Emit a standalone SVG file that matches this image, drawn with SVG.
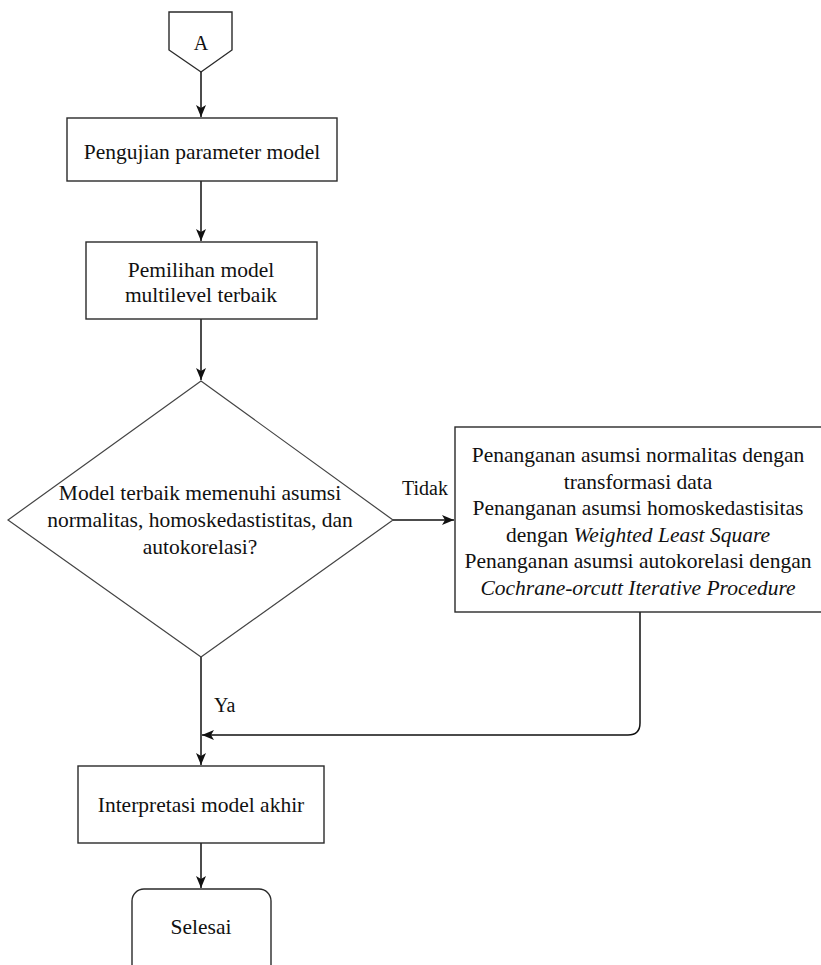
<svg xmlns="http://www.w3.org/2000/svg" width="821" height="965" viewBox="0 0 821 965">
  <style>
    .node { fill: #ffffff; stroke: #2a2a2a; stroke-width: 1.4; }
    .dia { fill: #ffffff; stroke: #444444; stroke-width: 1.2; }
    .t { font-family: 'Liberation Serif', 'Times New Roman', serif; font-size: 21.5px; fill: #111111; text-anchor: middle; }
    .lbl { font-family: 'Liberation Serif', 'Times New Roman', serif; font-size: 20px; fill: #111111; }
    .edge { fill: none; stroke: #111111; stroke-width: 1.5; }
    .it { font-style: italic; }
  </style>
  <defs>
    <marker id="arr" markerUnits="userSpaceOnUse" markerWidth="13" markerHeight="11" refX="12" refY="5" orient="auto">
      <path d="M0,0 L12,5 L0,10 L3,5 z" fill="#111111"/>
    </marker>
  </defs>
  <rect width="821" height="965" fill="#ffffff"/>

  <g id="connectors">
    <path class="edge" d="M201,72 L201,117" marker-end="url(#arr)"/>
    <path class="edge" d="M201,181 L201,241" marker-end="url(#arr)"/>
    <path class="edge" d="M201,319 L201,380" marker-end="url(#arr)"/>
    <path class="edge" d="M393,520 L454,520" marker-end="url(#arr)"/>
    <path class="edge" d="M201,657 L201,765" marker-end="url(#arr)"/>
    <path class="edge" d="M640,612 L640,723 Q640,735 628,735 L202,735" marker-end="url(#arr)"/>
    <path class="edge" d="M201,843 L201,888" marker-end="url(#arr)"/>
    <text class="lbl" x="402" y="495">Tidak</text>
    <text class="lbl" x="214" y="712">Ya</text>
  </g>

  <g id="node-a">
    <path class="node" d="M169,12 L232,12 L232,50 L201,72 L169,50 Z"/>
    <text class="t" x="201" y="50" style="font-size:20px">A</text>
  </g>

  <g id="node-pengujian">
    <rect class="node" x="67" y="118" width="270" height="63"/>
    <text class="t" x="202" y="159">Pengujian parameter model</text>
  </g>

  <g id="node-pemilihan">
    <rect class="node" x="86" y="242" width="231" height="77"/>
    <text class="t" x="201" y="277">Pemilihan model</text>
    <text class="t" x="201" y="302">multilevel terbaik</text>
  </g>

  <g id="node-decision">
    <polygon class="dia" points="201,381 393,520 201,657 8,520"/>
    <text class="t" x="200" y="500">Model terbaik memenuhi asumsi</text>
    <text class="t" x="200" y="527">normalitas, homoskedastistitas, dan</text>
    <text class="t" x="200" y="554">autokorelasi?</text>
  </g>

  <g id="node-penanganan">
    <rect class="node" x="455" y="427" width="370" height="185"/>
    <text class="t" x="638" y="462">Penanganan asumsi normalitas dengan</text>
    <text class="t" x="638" y="488.5">transformasi data</text>
    <text class="t" x="638" y="515">Penanganan asumsi homoskedastisitas</text>
    <text class="t" x="638" y="541.5">dengan <tspan class="it">Weighted Least Square</tspan></text>
    <text class="t" x="638" y="568">Penanganan asumsi autokorelasi dengan</text>
    <text class="t" x="638" y="594.5"><tspan class="it">Cochrane-orcutt Iterative Procedure</tspan></text>
  </g>

  <g id="node-interpretasi">
    <rect class="node" x="78" y="766" width="246" height="77"/>
    <text class="t" x="201" y="812">Interpretasi model akhir</text>
  </g>

  <g id="node-selesai">
    <rect class="node" x="132" y="889" width="139" height="100" rx="12" ry="12"/>
    <text class="t" x="201" y="934">Selesai</text>
  </g>
</svg>
